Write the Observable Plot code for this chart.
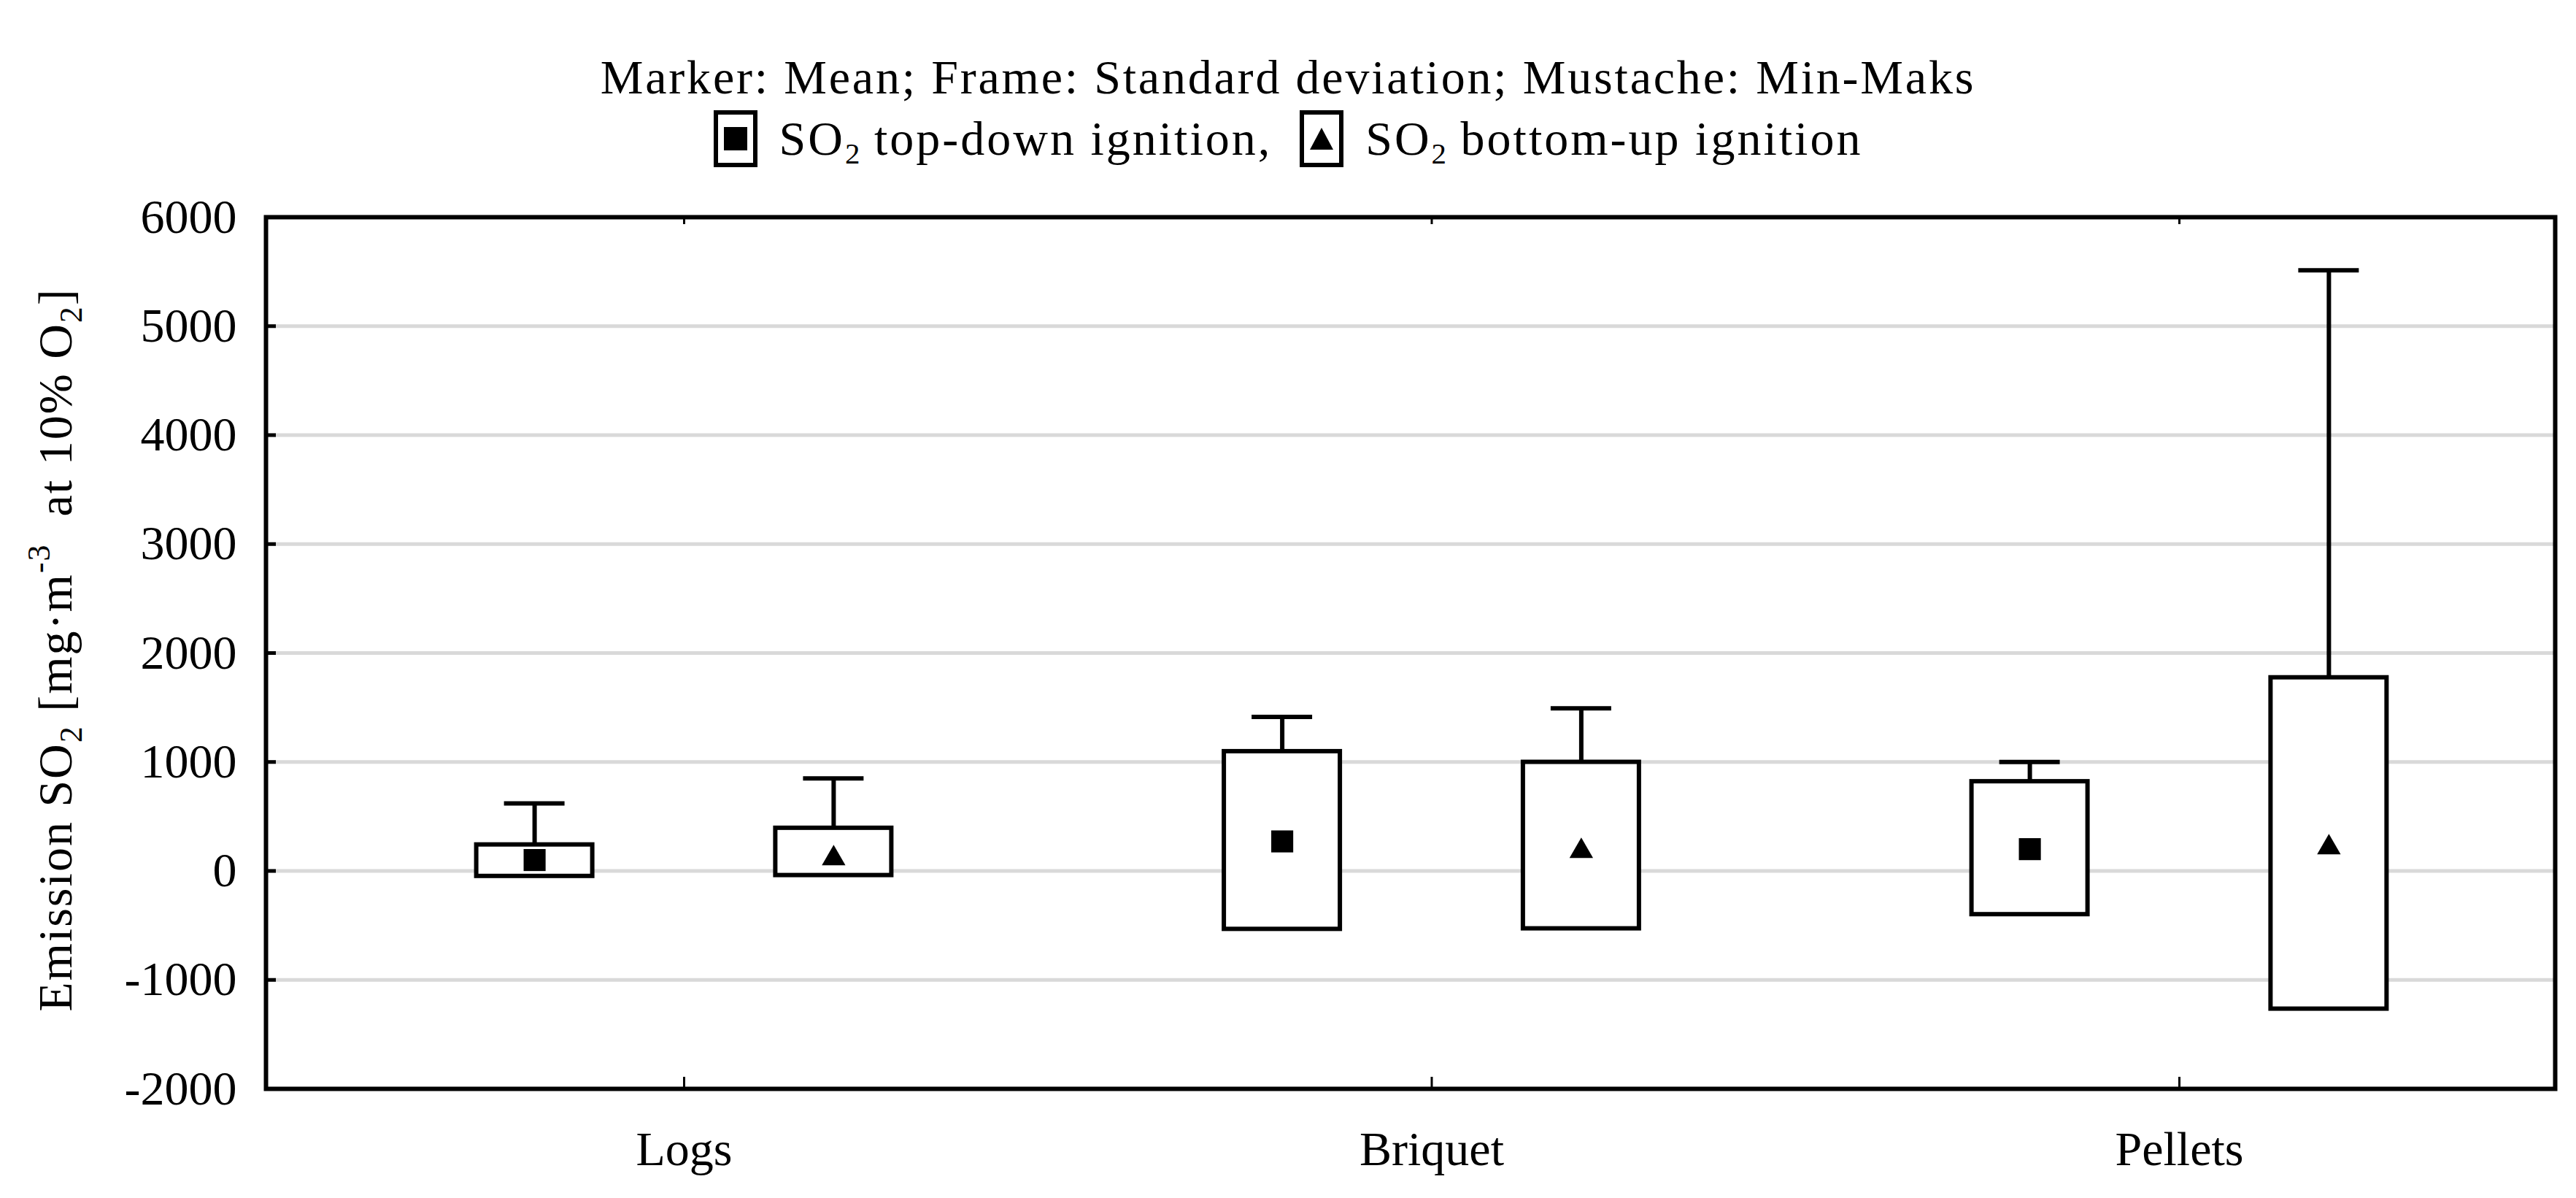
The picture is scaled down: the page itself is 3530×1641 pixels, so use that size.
<!DOCTYPE html>
<html>
<head>
<meta charset="utf-8">
<script src="https://cdn.jsdelivr.net/npm/d3@7"></script>
<script src="https://cdn.jsdelivr.net/npm/@observablehq/plot@0.6"></script>
<style>
  html, body { margin: 0; padding: 0; background: #fff; }
  body { width: 3530px; height: 1641px; overflow: hidden; font-family: "Liberation Serif", "DejaVu Serif", serif; color: #000; }
  #header { position: relative; width: 3530px; height: 240px; }
  #title { position: absolute; left: 0; top: 73px; width: 3530px; text-align: center; font-size: 66px; line-height: 66px; letter-spacing: 2.8px; white-space: nowrap; }
  #legend { position: absolute; left: 0; top: 151px; width: 3530px; height: 78px; display: flex; justify-content: center; align-items: center; font-size: 66px; line-height: 66px; letter-spacing: 3px; white-space: nowrap; }
  #legend .item { display: flex; align-items: center; }
  #legend svg { display: block; margin-right: 30px; }
  #legend .gap { width: 38px; }
  sub { font-size: 0.62em; line-height: 0; vertical-align: -0.3em; letter-spacing: 0; }
  #chart svg { display: block; }
</style>
</head>
<body>
<div id="header">
  <div id="title"></div>
  <div id="legend"></div>
</div>
<div id="chart"></div>
<script>
// ---- data ----
const categories = ["Logs", "Briquet", "Pellets"];
const series = ["top-down", "bottom-up"];
const legendLabels = ["top-down ignition,", "bottom-up ignition"];

const topDownMean = [100, 271, 200];
const topDownLow  = [-49, -535, -400];
const topDownHigh = [240, 1096, 820];
const topDownMax  = [620, 1413, 1000];

const bottomUpMean = [114, 181, 215];
const bottomUpLow  = [-41, -530, -1267];
const bottomUpHigh = [393, 998, 1774];
const bottomUpMax  = [849, 1492, 5513];

const yTicks = [-2000, -1000, 0, 1000, 2000, 3000, 4000, 5000, 6000];
const yTickLabels = ["-2000", "-1000", "0", "1000", "2000", "3000", "4000", "5000", "6000"];

// ---- table built from the arrays ----
const rows = [];
categories.forEach((c, i) => {
  rows.push({category: c, index: i + 1, series: "top-down",
             mean: topDownMean[i], low: topDownLow[i], high: topDownHigh[i], max: topDownMax[i]});
  rows.push({category: c, index: i + 1, series: "bottom-up",
             mean: bottomUpMean[i], low: bottomUpLow[i], high: bottomUpHigh[i], max: bottomUpMax[i]});
});

// ---- layout / style constants ----
const W = 3530, H = 1401;
const mL = 364, mR = 29, mT = 57, mB = 150;
const plotW = W - mL - mR, plotH = H - mT - mB;
const seriesOffset = {"top-down": -0.2, "bottom-up": 0.2};
const boxHalf = 0.0776, capHalf = 0.0405;
const pos = d => d.index + seriesOffset[d.series];
const FONT = "Liberation Serif";

// ---- title & legend (HTML above the SVG) ----
document.getElementById("title").textContent =
  "Marker: Mean; Frame: Standard deviation; Mustache: Min-Maks";

function swatch(kind) {
  const s = d3.create("svg").attr("width", 60).attr("height", 78);
  s.append("rect").attr("x", 3).attr("y", 3).attr("width", 54).attr("height", 72)
    .attr("fill", "#fff").attr("stroke", "#000").attr("stroke-width", 6);
  if (kind === "top-down") {
    s.append("rect").attr("x", 14).attr("y", 23).attr("width", 32).attr("height", 32).attr("fill", "#000");
  } else {
    s.append("path").attr("d", "M30,24 L46,54 L14,54 Z").attr("fill", "#000");
  }
  return s.node();
}
const legend = document.getElementById("legend");
series.forEach((s, k) => {
  const item = document.createElement("div");
  item.className = "item";
  item.appendChild(swatch(s));
  const span = document.createElement("span");
  span.innerHTML = "SO<sub>2</sub> " + legendLabels[k];
  item.appendChild(span);
  legend.appendChild(item);
  if (k === 0) { const g = document.createElement("div"); g.className = "gap"; legend.appendChild(g); }
});

// ---- plot ----
const plot = Plot.plot({
  width: W,
  height: H,
  marginLeft: mL, marginRight: mR, marginTop: mT, marginBottom: mB,
  style: {fontFamily: FONT, fontSize: "66px", color: "#000", background: "#fff", overflow: "visible"},
  x: {domain: [0.4407, 3.5027], label: null},
  y: {domain: [-2000, 6000], label: null},
  marks: [
    Plot.gridY(yTicks, {stroke: "#d9d9d9", strokeOpacity: 1, strokeWidth: 5}),
    Plot.ruleX(rows, {x: pos, y1: "high", y2: "max", stroke: "#000", strokeWidth: 6}),
    Plot.ruleY(rows, {y: "max", x1: d => pos(d) - capHalf, x2: d => pos(d) + capHalf, stroke: "#000", strokeWidth: 6}),
    Plot.rect(rows, {x1: d => pos(d) - boxHalf, x2: d => pos(d) + boxHalf, y1: "low", y2: "high",
                     fill: "#fff", stroke: "#000", strokeWidth: 6}),
    Plot.dot(rows.filter(d => d.series === "top-down"), {x: pos, y: "mean", symbol: "square", r: 17, fill: "#000", stroke: "none"}),
    Plot.dot(rows.filter(d => d.series === "bottom-up"), {x: pos, y: "mean", symbol: "triangle", r: 12, fill: "#000", stroke: "none"}),
    Plot.frame({stroke: "#000", strokeWidth: 6}),
    // inward y ticks on the left side
    Plot.tickY(yTicks, {y: d => d, insetRight: plotW - 14, stroke: "#000", strokeWidth: 5}),
    // inward category ticks, bottom and top
    Plot.tickX([1, 2, 3], {x: d => d, insetTop: plotH - 16, stroke: "#000", strokeWidth: 3}),
    Plot.tickX([1, 2, 3], {x: d => d, insetBottom: plotH - 10, stroke: "#000", strokeWidth: 3}),
    Plot.axisY(yTicks, {tickSize: 0, tickPadding: 40, fontSize: 66, label: null,
                        tickFormat: v => yTickLabels[yTicks.indexOf(v)]}),
    Plot.axisX([1, 2, 3], {tickSize: 0, tickPadding: 58, fontSize: 66, label: null,
                           tickFormat: v => categories[v - 1]})
  ]
});

// y-axis title with real subscripts / superscript
const svg = d3.select(plot);
const yl = svg.append("text")
  .attr("transform", `translate(98, ${mT + plotH / 2 - 4}) rotate(-90)`)
  .attr("text-anchor", "middle")
  .attr("fill", "#000")
  .style("font-family", FONT)
  .style("font-size", "66px")
  .style("letter-spacing", "2px");
yl.append("tspan").text("Emission SO");
yl.append("tspan").attr("dy", 14).style("font-size", "44px").text("2");
yl.append("tspan").attr("dy", -14).text(" [mg·m");
yl.append("tspan").attr("dy", -30).style("font-size", "44px").text("-3");
yl.append("tspan").attr("dy", 30).text("  at 10% O");
yl.append("tspan").attr("dy", 14).style("font-size", "44px").text("2");
yl.append("tspan").attr("dy", -14).text("]");

document.getElementById("chart").appendChild(plot);
</script>
</body>
</html>
